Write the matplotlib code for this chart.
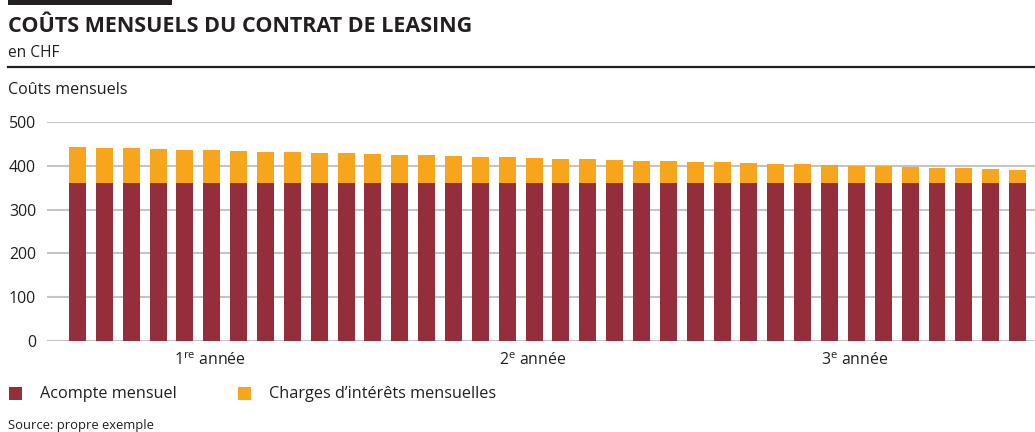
import matplotlib
matplotlib.use("Agg")
import matplotlib.pyplot as plt
from matplotlib.patches import Rectangle
import numpy as np

# Monthly leasing costs over 36 months (CHF)
months = list(range(1, 37))
acompte = [360] * 36
interets = [83.5, 81, 81, 79, 77, 77, 74.5, 72, 72, 70, 70, 67.5,
            65, 65, 63, 61, 61, 58.5, 56, 56, 54, 51.5, 51.5, 49,
            49, 47, 44.5, 44.5, 42, 40, 40, 38, 35.5, 35.5, 33, 31]
year_ticks = [4.95, 16.95, 28.95]
year_labels = ["1$^{\\mathrm{re}}$ année", "2$^{\\mathrm{e}}$ année", "3$^{\\mathrm{e}}$ année"]
y_ticks = [0, 100, 200, 300, 400, 500]

FONT = "Open Sans"
plt.rcParams["font.family"] = [FONT, "DejaVu Sans"]
plt.rcParams["mathtext.fontset"] = "custom"
plt.rcParams["mathtext.rm"] = FONT
plt.rcParams["mathtext.it"] = FONT
plt.rcParams["mathtext.bf"] = FONT + ":bold"

RED = "#952E3C"
ORANGE = "#F7A51D"
TEXT = "#231F20"
GRID = "#C4C4C4"

W, H = 1035, 432
fig = plt.figure(figsize=(W / 100, H / 100), dpi=100)


def px(x, y):
    return x / W, 1 - y / H


# header
fig.patches.append(Rectangle(px(8, 4.5), (172 - 8) / W, 4.5 / H,
                             transform=fig.transFigure, color=TEXT, lw=0))
fig.text(*px(8, 31.5), "COÛTS MENSUELS DU CONTRAT DE LEASING", fontsize=15.5,
         fontweight="bold", color=TEXT, va="baseline", ha="left")
fig.text(*px(8, 57), "en CHF", fontsize=11.2, color=TEXT, va="baseline", ha="left")
fig.lines.append(plt.Line2D([8 / W, 1.0], [1 - 67 / H, 1 - 67 / H],
                            transform=fig.transFigure, color=TEXT, lw=1.6))
fig.text(*px(8, 94.5), "Coûts mensuels", fontsize=11.6, color=TEXT,
         va="baseline", ha="left")

# chart area
ax = fig.add_axes([47 / W, (H - 341) / H, (W - 47) / W, 219 / H])
x = np.arange(len(months))
ax.bar(x, acompte, width=0.63, color=RED, zorder=3)
ax.bar(x, interets, width=0.63, bottom=acompte, color=ORANGE, zorder=3)

ax.set_xlim(-1.135, 35.65)
ax.set_ylim(0, 500)
ax.set_yticks(y_ticks)
ax.set_yticklabels([str(v) for v in y_ticks], fontsize=11.4, color=TEXT)
ax.set_xticks(year_ticks)
ax.set_xticklabels(year_labels, fontsize=11.4, color=TEXT)
ax.tick_params(axis="both", length=0)
ax.tick_params(axis="y", pad=8)
ax.tick_params(axis="x", pad=8.5)
for s in ax.spines.values():
    s.set_visible(False)
ax.yaxis.grid(True, color=GRID, lw=1.5, zorder=0)
ax.set_axisbelow(True)

# legend
for (lx, tx, col, lab) in [(9, 40, RED, "Acompte mensuel"),
                           (238, 269, ORANGE, "Charges d\u2019intérêts mensuelles")]:
    fig.patches.append(Rectangle(px(lx, 400), 13 / W, 13 / H,
                                 transform=fig.transFigure, color=col, lw=0))
    fig.text(*px(tx, 394), lab, fontsize=11.7, color=TEXT, va="center", ha="left")

fig.text(*px(8, 419), "Source: propre exemple", fontsize=9.4, color=TEXT,
         va="top", ha="left")

fig.savefig("out.png", dpi=100)
